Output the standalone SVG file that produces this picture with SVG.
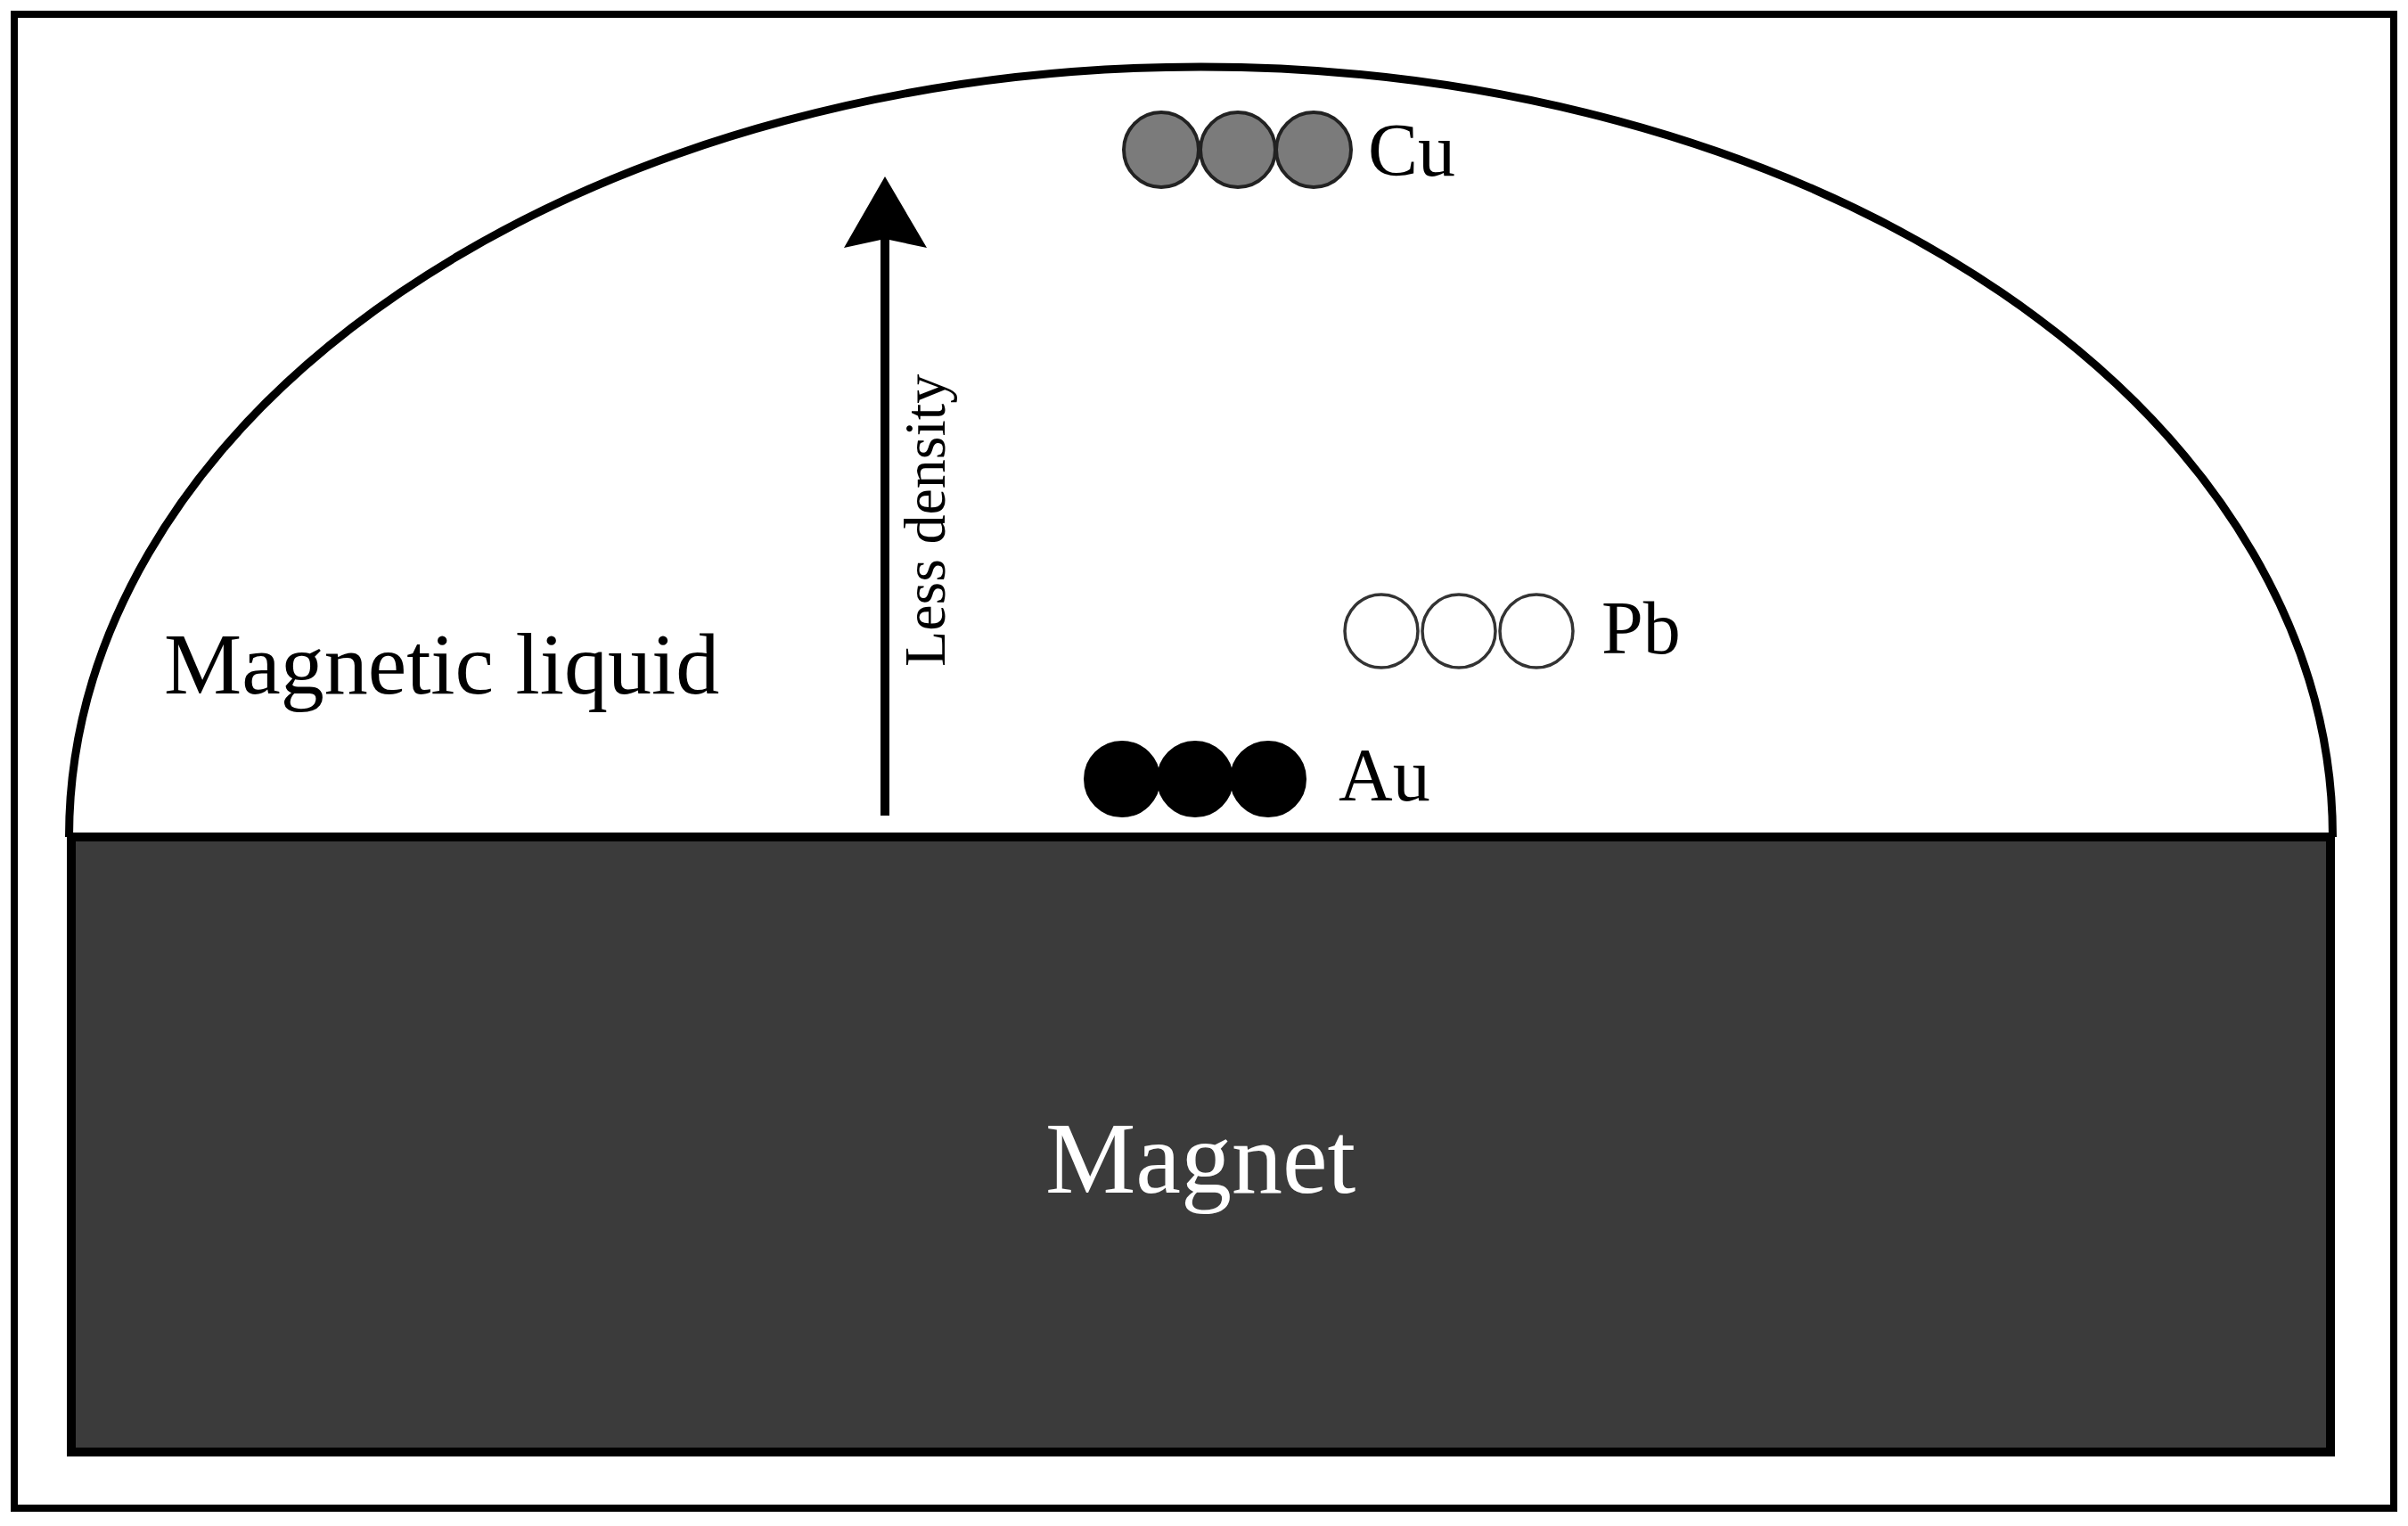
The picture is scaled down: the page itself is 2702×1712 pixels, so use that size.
<svg xmlns="http://www.w3.org/2000/svg" width="2702" height="1712" viewBox="0 0 2702 1712">
<style>
.lbl{font-family:"Liberation Serif","Times New Roman",serif;fill:#000}
.el{font-size:84px}
.cu{fill:#7b7b7b;stroke:#222;stroke-width:4}
.pb{fill:#fff;stroke:#333;stroke-width:3.5}
.au{fill:#000;stroke:#000;stroke-width:2}
</style>
<rect x="0" y="0" width="2702" height="1712" fill="#fff"/>
<rect id="frame" x="16" y="16" width="2670" height="1676" fill="none" stroke="#000" stroke-width="8"/>
<g id="liquid">
<path d="M77.5 939 A1270 864 0 0 1 2617.5 939" fill="#fff" stroke="#000" stroke-width="9"/>
<text class="lbl" x="184" y="778" font-size="98">Magnetic liquid</text>
</g>
<g id="magnet">
<rect x="80" y="939" width="2535" height="690" fill="#3b3b3b" stroke="#000" stroke-width="10"/>
<text class="lbl" x="1173" y="1338" font-size="114" style="fill:#fff">Magnet</text>
</g>
<g id="connectors">
<line x1="993" y1="915" x2="993" y2="262" stroke="#000" stroke-width="10"/>
<path d="M993 198 L1040 278 L993 268 L947 278 Z" fill="#000"/>
</g>
<g id="density-label">
<text class="lbl" transform="translate(1060 748) rotate(-90)" font-size="66">Less density</text>
</g>
<g id="cu">
<circle class="cu" cx="1303" cy="168" r="42"/>
<circle class="cu" cx="1389" cy="168" r="42"/>
<circle class="cu" cx="1474" cy="168" r="42"/>
<text class="lbl el" x="1535" y="197">Cu</text>
</g>
<g id="pb">
<circle class="pb" cx="1550" cy="708" r="41"/>
<circle class="pb" cx="1637" cy="708" r="41"/>
<circle class="pb" cx="1724" cy="708" r="41"/>
<text class="lbl el" x="1797" y="733">Pb</text>
</g>
<g id="au">
<circle class="au" cx="1259" cy="874" r="42"/>
<circle class="au" cx="1341" cy="874" r="42"/>
<circle class="au" cx="1423" cy="874" r="42"/>
<text class="lbl el" x="1502" y="898">Au</text>
</g>
</svg>
